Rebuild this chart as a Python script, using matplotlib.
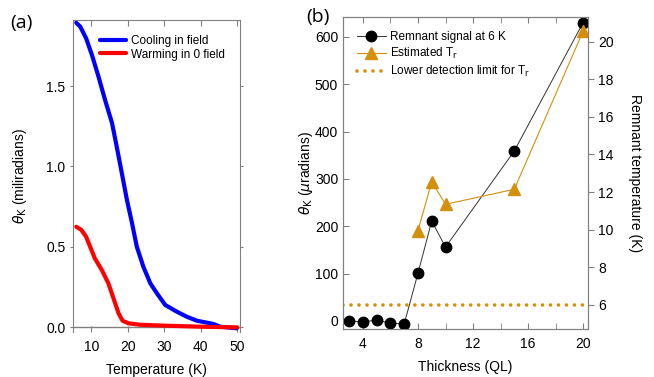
import matplotlib
matplotlib.use("Agg")
import matplotlib.pyplot as plt
from matplotlib.ticker import MultipleLocator, FormatStrFormatter

plt.rcParams['font.family'] = ['Liberation Sans', 'DejaVu Sans']
plt.rcParams['mathtext.fontset'] = 'dejavusans'

# panel (a): Kerr rotation vs temperature
t_cool = [5.9, 7.0, 8.6, 10.2, 12.0, 13.8, 15.7, 17.0, 18.4, 19.8, 21.2, 22.5, 24.3,
          26.2, 28.0, 30.3, 33.5, 36.2, 39.0, 43.5, 45.3, 49.9]
k_cool = [1.894, 1.869, 1.797, 1.693, 1.558, 1.413, 1.27, 1.122, 0.957, 0.79, 0.645,
          0.50, 0.375, 0.272, 0.21, 0.137, 0.095, 0.064, 0.039, 0.019, 0.002, -0.008]
t_warm = [5.9, 7.3, 8.6, 9.7, 11.0, 12.9, 14.7, 16.1, 17.5, 18.6, 20.2, 23.4, 30.6,
          39.8, 48.9, 50.0]
k_warm = [0.624, 0.604, 0.562, 0.50, 0.427, 0.355, 0.272, 0.179, 0.085, 0.039, 0.023,
          0.014, 0.008, 0.002, -0.002, -0.002]

# panel (b): remnant signal and temperature vs thickness
thick = [3, 4, 5, 6, 7, 8, 9, 10, 15, 20]
remnant = [0, -2, 2, -5, -6, 101, 211, 156, 359, 630]
thick_tr = [8, 9, 10, 15, 20]
t_r = [9.95, 12.55, 11.35, 12.15, 20.55]
t_limit = 6

grey = '#808080'
orange = '#D4900C'

fig = plt.figure(figsize=(6.54, 3.77), dpi=100)

# ---- (a)
ax = fig.add_axes([0.1116, 0.1194, 0.2554, 0.8276])
ax.plot(t_cool, k_cool, color='#0000FF', lw=3, label='Cooling in field',
        solid_capstyle='round', solid_joinstyle='round')
ax.plot(t_warm, k_warm, color='#FF0000', lw=3, label='Warming in 0 field',
        solid_capstyle='round', solid_joinstyle='round')
ax.axhline(0, color=grey, lw=1, zorder=0)
ax.set_xlim(5.0, 50.8)
ax.set_ylim(-0.031, 1.911)
ax.xaxis.set_major_locator(MultipleLocator(10))
ax.yaxis.set_major_locator(MultipleLocator(0.5))
ax.yaxis.set_major_formatter(FormatStrFormatter('%.1f'))
for s in ax.spines.values():
    s.set_color(grey)
ax.spines['bottom'].set_visible(False)
ax.tick_params(axis='x', direction='in', top=True, length=4, color=grey, labelsize=10, pad=6)
ax.tick_params(axis='y', direction='out', length=2, color=grey, labelsize=10)
ax.tick_params(axis='y', which='both', right=True)
ax.set_xlabel('Temperature (K)', fontsize=10, labelpad=6)
ax.set_ylabel(r'$\theta_{\rm K}$ (miliradians)', fontsize=10, labelpad=12)
ax.legend(loc='upper right', frameon=False, fontsize=8.5, handlelength=2.2,
          handletextpad=0.4, labelspacing=0.1, borderaxespad=0.9)
fig.text(0.015, 0.94, '(a)', fontsize=14, family='Open Sans', va='center')

# ---- (b)
bx = fig.add_axes([0.5245, 0.1273, 0.3746, 0.8276])
bx2 = bx.twinx()
l1, = bx.plot(thick, remnant, color='#333333', lw=0.7, marker='o', ms=7.5,
              mfc='black', mec='black', label='Remnant signal at 6 K', zorder=3)
l2, = bx2.plot(thick_tr, t_r, color=orange, lw=0.8, marker='^', ms=8,
               mfc=orange, mec=orange, label='Estimated T$_{\\rm r}$')
l3 = bx2.axhline(t_limit, color=orange, lw=2.6, linestyle=(0, (0.01, 2.2)),
                 dash_capstyle='round', label='Lower detection limit for T$_{\\rm r}$')
bx.set_xlim(2.55, 20.36)
bx.set_ylim(-17, 642)
bx2.set_ylim(4.72, 21.31)
bx.xaxis.set_major_locator(MultipleLocator(4))
bx.xaxis.set_minor_locator(MultipleLocator(2))
bx.yaxis.set_major_locator(MultipleLocator(100))
bx2.yaxis.set_major_locator(MultipleLocator(2))
for a in (bx, bx2):
    for s in a.spines.values():
        s.set_color(grey)
bx.tick_params(axis='x', which='both', direction='in', top=True, length=4, color=grey,
               labelsize=10, pad=6)
bx.tick_params(axis='y', direction='in', length=4, color=grey, labelsize=10)
bx2.tick_params(axis='y', direction='out', length=4, color=grey, labelsize=10)
bx.set_xlabel('Thickness (QL)', fontsize=10, labelpad=6)
bx.set_ylabel(r'$\theta_{\rm K}$ ($\mu$radians)', fontsize=10, labelpad=0)
bx2.set_ylabel('Remnant temperature (K)', fontsize=10, rotation=270, labelpad=20)
bx2.legend(handles=[l1, l2, l3], loc='upper left', frameon=False, fontsize=8.5,
           handlelength=2.4, handletextpad=0.4, labelspacing=0.25, borderaxespad=0.8)
fig.text(0.468, 0.955, '(b)', fontsize=14, family='Open Sans', va='center')

fig.savefig('out.png', dpi=100)
